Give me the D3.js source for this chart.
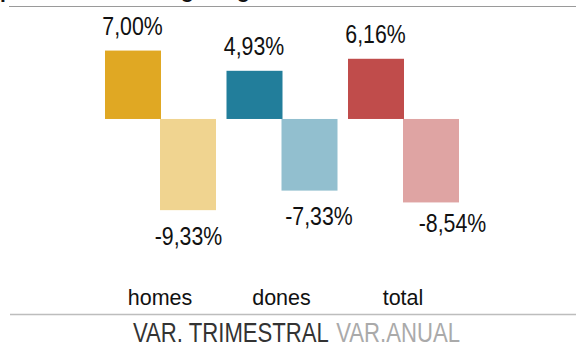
<!DOCTYPE html>
<html>
<head>
<meta charset="utf-8">
<script src="https://cdn.jsdelivr.net/npm/d3@7/dist/d3.min.js"></script>
<style>
  html, body { margin: 0; padding: 0; background: #fff; }
  svg { display: block; }
</style>
</head>
<body>
<svg id="chart" width="576" height="343"></svg>
<script>
// Categories and series
const categories = ["homes", "dones", "total"];
const seriesKeys = ["trimestral", "anual"];
const trimestral = [7.00, 4.93, 6.16];
const anual = [-9.33, -7.33, -8.54];
const legendLabels = ["VAR. TRIMESTRAL", "VAR.ANUAL"];
const titleText = "població activa segons gènere";

// Colours per category: [quarterly, annual]
const palette = {
  homes: ["#E0A823", "#F0D490"],
  dones: ["#227E9B", "#92BFCF"],
  total: ["#C04C4B", "#DFA4A3"]
};

// Hand placement tweaks for the annual value labels
const annualLabelDx = [1, 10, 22];
const annualLabelDy = [2, 1, -3];

// Condensed look for value labels and legend
const NARROW = 0.82;
const baseFont = "Liberation Sans, Arial, sans-serif";

const fmt = v => (v < 0 ? "-" : "") + d3.format(".2f")(Math.abs(v)).replace(".", ",") + "%";

const svg = d3.select("#chart");

// Title (sits above the top edge, only descenders show)
svg.append("text")
  .attr("x", 0).attr("y", -2)
  .attr("font-family", baseFont)
  .attr("font-weight", "bold")
  .attr("font-size", 21)
  .attr("fill", "#111")
  .text(titleText);

// Top rule
svg.append("line")
  .attr("x1", 9).attr("x2", 576).attr("y1", 6.5).attr("y2", 6.5)
  .attr("stroke", "#9a9a9a").attr("stroke-width", 1);

// Scales
const y = d3.scaleLinear().domain([-10, 8]).range([216.7, 40.8]);
const x0 = d3.scaleBand().domain(categories).range([99.25, 463.75]);
const x1 = d3.scaleBand().domain(seriesKeys).range([-55, 55]);

const rows = categories.map((c, i) => ({
  cat: c,
  i,
  center: x0(c) + x0.bandwidth() / 2,
  values: [
    { key: "trimestral", value: trimestral[i] },
    { key: "anual", value: anual[i] }
  ]
}));

const groups = svg.selectAll("g.group")
  .data(rows)
  .join("g")
  .attr("class", "group")
  .attr("transform", d => `translate(${d.center},0)`);

groups.selectAll("rect")
  .data(d => d.values.map((v, j) => ({ ...v, cat: d.cat, j })))
  .join("rect")
  .attr("x", d => x1(d.key))
  .attr("width", x1.bandwidth() + 1)
  .attr("y", d => y(Math.max(0, d.value)))
  .attr("height", d => Math.abs(y(d.value) - y(0)))
  .attr("fill", d => palette[d.cat][d.j]);

// Value labels
function narrowText(sel, x, yPos, size) {
  return sel.append("text")
    .attr("transform", d => `translate(${x(d)},${yPos(d)}) scale(${NARROW},1)`)
    .attr("text-anchor", "middle")
    .attr("font-family", baseFont)
    .attr("font-size", size)
    .attr("fill", "#111");
}

narrowText(groups,
  () => x1("trimestral") + x1.bandwidth() / 2,
  d => y(d.values[0].value) - 16, 26)
  .text(d => fmt(d.values[0].value));

narrowText(groups,
  d => x1("anual") + x1.bandwidth() / 2 + annualLabelDx[d.i],
  d => y(d.values[1].value) + 33 + annualLabelDy[d.i], 26)
  .text(d => fmt(d.values[1].value));

// Category labels
groups.append("text")
  .attr("x", 0)
  .attr("y", 305)
  .attr("text-anchor", "middle")
  .attr("font-family", baseFont)
  .attr("font-size", 21.5)
  .attr("fill", "#111")
  .text(d => d.cat);

// Bottom rule
svg.append("line")
  .attr("x1", 10).attr("x2", 576).attr("y1", 314.5).attr("y2", 314.5)
  .attr("stroke", "#bdbdbd").attr("stroke-width", 1.5);

// Legend
const legend = svg.append("text")
  .attr("transform", "translate(133,342) scale(0.82,1)")
  .attr("font-family", baseFont)
  .attr("font-size", 27);
legend.append("tspan").attr("fill", "#333").text(legendLabels[0]);
legend.append("tspan").attr("fill", "#aaaaaa").attr("dx", 9).text(legendLabels[1]);
</script>
</body>
</html>
